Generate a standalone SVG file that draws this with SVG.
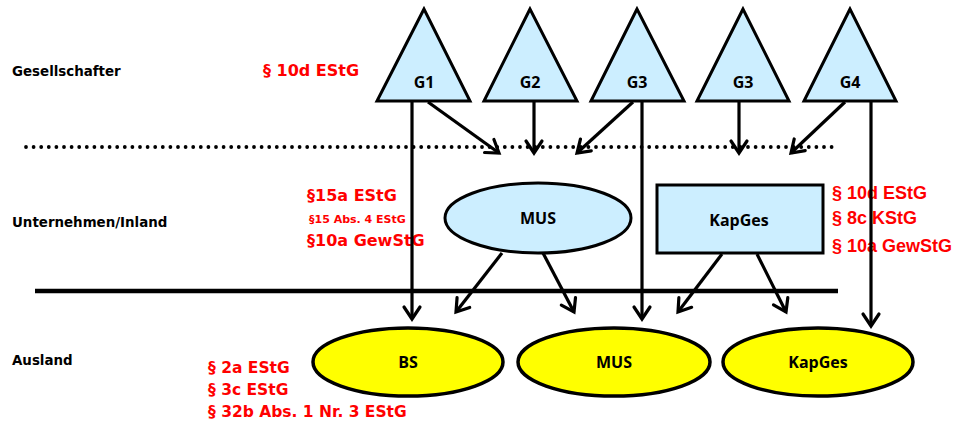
<svg xmlns="http://www.w3.org/2000/svg" width="958" height="423" viewBox="0 0 958 423">
<defs>
<style>
.tri{fill:#cceeff;stroke:#000;stroke-width:3;stroke-linejoin:miter}
.blue{fill:#cceeff;stroke:#000;stroke-width:3}
.yel{fill:#ffff00;stroke:#000;stroke-width:3.5}
.lbl{font-family:"DejaVu Sans",Verdana,sans-serif;font-weight:bold;font-size:13.4px;fill:#000}
.nl{font-family:"Open Sans","DejaVu Sans",sans-serif;font-weight:bold;font-size:16px;fill:#000;text-anchor:middle}
.red{font-family:"DejaVu Sans",Verdana,sans-serif;font-weight:bold;font-size:16px;fill:#ff0000}
.reda{font-family:"Liberation Sans",Arial,sans-serif;font-weight:bold;font-size:18px;fill:#ff0000}
.arr{stroke:#000;stroke-width:3.2;fill:none;marker-end:url(#ah)}
</style>
<marker id="ah" markerUnits="userSpaceOnUse" markerWidth="30" markerHeight="30" refX="15" refY="15" orient="auto" viewBox="0 0 30 30">
<path d="M3,7 L15,15 L3,23" fill="none" stroke="#000" stroke-width="3.2" stroke-linecap="round" stroke-linejoin="miter"/>
</marker>
</defs>
<rect width="958" height="423" fill="#fff"/>

<g id="guides">
<line x1="26" y1="147" x2="838" y2="147" stroke="#000" stroke-width="3.8" stroke-linecap="round" stroke-dasharray="0 7.6"/>
<line x1="35" y1="291" x2="838" y2="291" stroke="#000" stroke-width="4.5"/>
</g>

<g id="labels">
<text class="lbl" x="12" y="76">Gesellschafter</text>
<text class="lbl" x="12" y="227">Unternehmen/Inland</text>
<text class="lbl" x="12" y="365">Ausland</text>
<text class="red" x="263" y="76">§ 10d EStG</text>
<text class="red" x="307" y="201">§15a EStG</text>
<text class="red" x="309" y="223" style="font-size:11px">§15 Abs. 4 EStG</text>
<text class="red" x="307" y="246">§10a GewStG</text>
<text class="reda" x="832" y="199">§ 10d EStG</text>
<text class="reda" x="832" y="224">§ 8c KStG</text>
<text class="reda" x="832" y="252">§ 10a GewStG</text>
<text class="red" x="208" y="373" style="font-size:15.5px">§ 2a EStG</text>
<text class="red" x="208" y="395" style="font-size:15.5px">§ 3c EStG</text>
<text class="red" x="208" y="417" style="font-size:15.5px">§ 32b Abs. 1 Nr. 3 EStG</text>
</g>

<g id="connectors">
<line class="arr" x1="412" y1="101" x2="412" y2="319"/>
<line class="arr" x1="428" y1="102" x2="499" y2="153"/>
<line class="arr" x1="534" y1="102" x2="534" y2="153"/>
<line class="arr" x1="633" y1="102" x2="577" y2="153"/>
<line class="arr" x1="642" y1="101" x2="642" y2="319"/>
<line class="arr" x1="739" y1="102" x2="739" y2="153"/>
<line class="arr" x1="845" y1="102" x2="791" y2="153"/>
<line class="arr" x1="871" y1="101" x2="871" y2="326"/>
<line class="arr" x1="502" y1="253" x2="456" y2="312"/>
<line class="arr" x1="543" y1="253" x2="574" y2="312"/>
<line class="arr" x1="722" y1="254" x2="678" y2="312"/>
<line class="arr" x1="757" y1="254" x2="786" y2="312"/>
</g>

<g id="G1"><polygon class="tri" points="424,9 377,101 470,101"/><text class="nl" x="424" y="88">G1</text></g>
<g id="G2"><polygon class="tri" points="530,9 484,101 577,101"/><text class="nl" x="530" y="88">G2</text></g>
<g id="G3a"><polygon class="tri" points="637,9 591,101 684,101"/><text class="nl" x="637" y="88">G3</text></g>
<g id="G3b"><polygon class="tri" points="743,9 697,101 789,101"/><text class="nl" x="743" y="88">G3</text></g>
<g id="G4"><polygon class="tri" points="850,9 804,101 896,101"/><text class="nl" x="850" y="88">G4</text></g>

<g id="MUS_Inland"><ellipse class="blue" cx="538" cy="218" rx="93" ry="35"/><text class="nl" x="538" y="224">MUS</text></g>
<g id="KapGes_Inland"><rect class="blue" x="657" y="185" width="166" height="68"/><text class="nl" x="739" y="226">KapGes</text></g>

<g id="BS"><ellipse class="yel" cx="408" cy="362" rx="95" ry="34"/><text class="nl" x="408" y="368">BS</text></g>
<g id="MUS_Ausland"><ellipse class="yel" cx="614" cy="362" rx="96" ry="34"/><text class="nl" x="614" y="368">MUS</text></g>
<g id="KapGes_Ausland"><ellipse class="yel" cx="818" cy="362" rx="95" ry="34"/><text class="nl" x="818" y="368">KapGes</text></g>
</svg>
